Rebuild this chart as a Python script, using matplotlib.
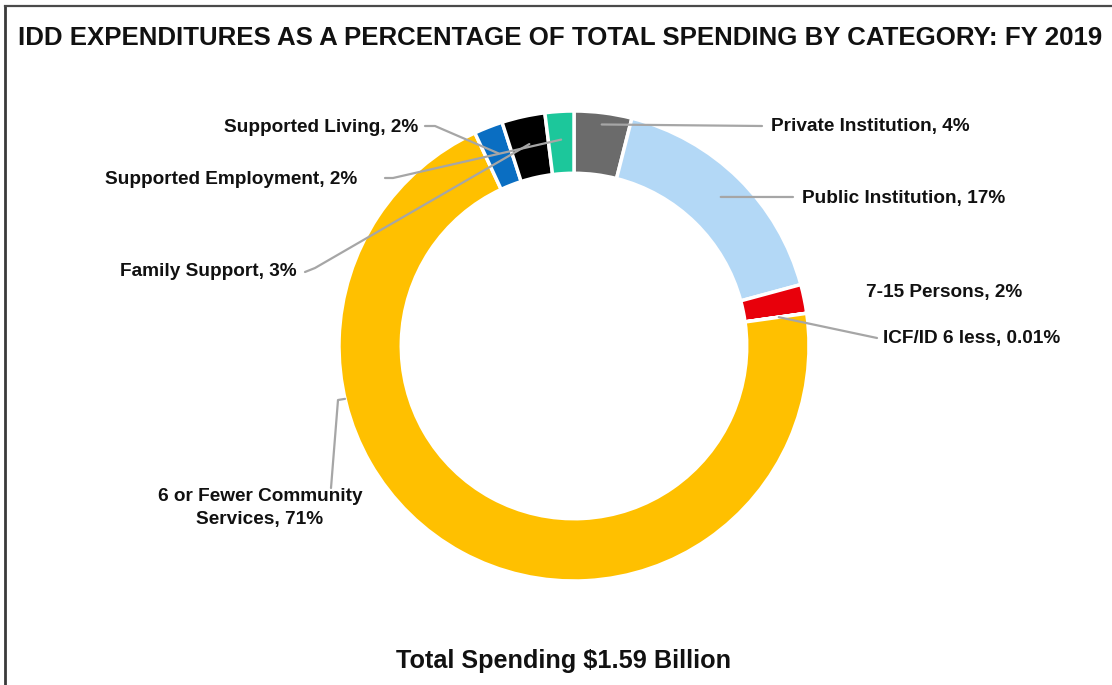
import matplotlib
matplotlib.use("Agg")
import matplotlib.pyplot as plt
import numpy as np
from matplotlib import font_manager
from matplotlib.lines import Line2D

# Spending shares (percent), clockwise from 12 o'clock
categories = [
    "Private Institution",
    "Public Institution",
    "7-15 Persons",
    "ICF/ID 6 less",
    "6 or Fewer Community\nServices",
    "Supported Living",
    "Family Support",
    "Supported Employment",
]
shares = [4, 17, 2, 0.01, 71, 2, 3, 2]
share_text = ["4%", "17%", "2%", "0.01%", "71%", "2%", "3%", "2%"]
colors = ["#6B6B6B", "#B3D8F6", "#E8000B", "#FFFFFF", "#FFC000",
          "#0A6EC2", "#000000", "#1CC79B"]

title = "IDD EXPENDITURES AS A PERCENTAGE OF TOTAL SPENDING BY CATEGORY: FY 2019"
footer = "Total Spending $1.59 Billion"

W, H = 1112, 685
CX, CY = 574, 346      # donut centre in pixels (from top-left)
R = 235                # outer radius in pixels


def to_data(px, py):
    return (px - CX) / R, (CY - py) / R


def has_font(name):
    try:
        font_manager.findfont(font_manager.FontProperties(family=name),
                              fallback_to_default=False)
        return True
    except Exception:
        return False


base_font = "Liberation Sans" if has_font("Liberation Sans") else "DejaVu Sans"
narrow_font = "Liberation Sans Narrow" if has_font("Liberation Sans Narrow") else None

fig = plt.figure(figsize=(W / 100, H / 100), dpi=100)
fig.patch.set_facecolor("white")
ax = fig.add_axes([0, 0, 1, 1])

wedges, _ = ax.pie(
    shares,
    colors=colors,
    startangle=90,
    counterclock=False,
    radius=1.0,
    wedgeprops=dict(width=0.265, edgecolor="white", linewidth=2.5),
)
# pie() resets the limits, so map one data unit to R pixels afterwards
ax.set_xlim(-CX / R, (W - CX) / R)
ax.set_ylim(-(H - CY) / R, CY / R)
ax.set_aspect("auto")
ax.axis("off")

# label text anchor (px), alignment, leader elbow points (px) or None
label_pos = [
    (771, 127, "left"),
    (802, 198, "left"),
    (866, 293, "left"),
    (883, 338, "left"),
    (260, 508, "center"),
    (418, 127, "right"),
    (297, 272, "right"),
    (357, 179, "right"),
]
leader_start = [
    [(762, 126)],
    [(793, 197)],
    None,
    [(877, 338)],
    [(331, 488), (338, 400)],
    [(425, 126), (435, 126)],
    [(305, 272), (315, 268)],
    [(385, 178), (393, 178)],
]
# angle (deg) where a leader meets the ring; None -> slice midpoint
leader_angle = [None, None, None, None, 193.0, None, None, None]
leader_r = [0.95, 0.89, 0.88, 0.88, 1.0, 0.88, 0.88, 0.88]

label_size = 13.7
for i, w in enumerate(wedges):
    px, py, ha = label_pos[i]
    tx, ty = to_data(px, py)
    ax.text(tx, ty, f"{categories[i]}, {share_text[i]}", ha=ha, va="center",
            multialignment="center", fontsize=label_size, fontweight="bold",
            family=base_font, color="#111111", linespacing=1.4)
    if leader_start[i] is None:
        continue
    ang = leader_angle[i]
    if ang is None:
        ang = (w.theta1 + w.theta2) / 2
    ex = leader_r[i] * np.cos(np.radians(ang))
    ey = leader_r[i] * np.sin(np.radians(ang))
    pts = [to_data(*p) for p in leader_start[i]] + [(ex, ey)]
    xs, ys = zip(*pts)
    ax.plot(xs, ys, color="#A6A6A6", lw=1.6, solid_capstyle="round", zorder=5)

# title
if narrow_font:
    fig.text(18 / W, 1 - 38 / H, title, ha="left", va="center", fontsize=20,
             fontweight="bold", family=narrow_font, color="#111111")
else:
    fig.text(18 / W, 1 - 38 / H, title, ha="left", va="center", fontsize=18.6,
             fontweight="bold", family=base_font, color="#111111")

fig.text(564 / W, 1 - 661 / H, footer, ha="center", va="center", fontsize=18.2,
         fontweight="bold", family=base_font, color="#111111")

# frame along top and left
fig.add_artist(Line2D([5 / W, 5 / W], [0, 1 - 6 / H], transform=fig.transFigure,
                      color="#3A3A3A", lw=2))
fig.add_artist(Line2D([5 / W, 1], [1 - 6 / H, 1 - 6 / H], transform=fig.transFigure,
                      color="#4A4A4A", lw=1.6))

fig.savefig("out.png", dpi=100, facecolor="white")
